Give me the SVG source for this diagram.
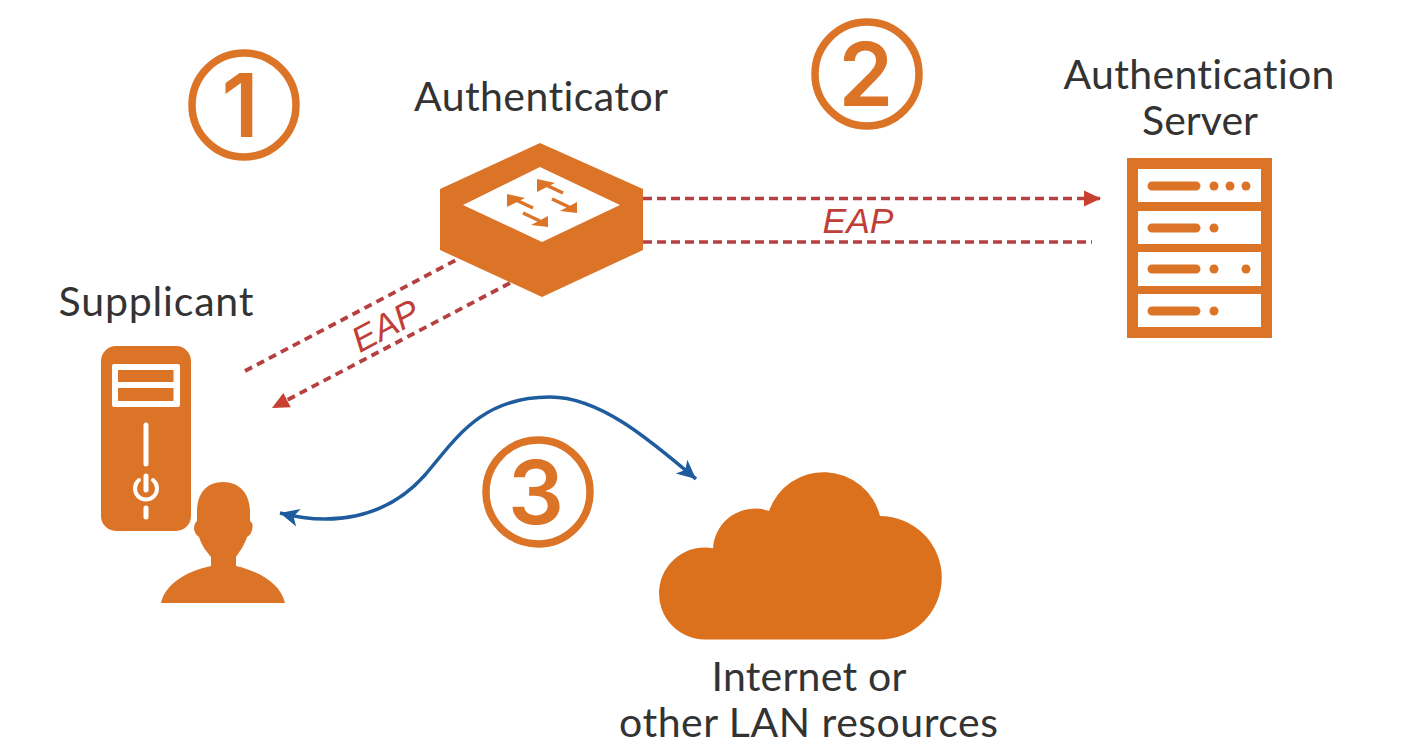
<svg xmlns="http://www.w3.org/2000/svg" width="1427" height="749" viewBox="0 0 1427 749">
<style>
.l{font-family:"Lato","Open Sans",sans-serif;font-size:41px;font-weight:400;fill:#333;text-anchor:middle;font-variant-ligatures:none}
.e{font-family:"Liberation Sans",Arial,sans-serif;font-size:35.500px;font-style:italic;fill:#bf3f38;text-anchor:middle}
.o{fill:#dc7428}
.w{fill:#fff}
.n{fill:none;stroke:#dc7428;stroke-width:7.500}
.d{font-family:"Inter","Open Sans",sans-serif;font-weight:600;font-size:88px;fill:#dc7428;text-anchor:middle}
.c{fill:none;stroke:#b5403f;stroke-width:3.500;stroke-dasharray:9 5}
.c2{fill:none;stroke:#b5403f;stroke-width:3.800;stroke-dasharray:8 5.500}
.b{fill:none;stroke:#1f5c9e;stroke-width:3.500}
.wl{fill:none;stroke:#fff;stroke-width:5;stroke-linecap:round}
.ob{fill:none;stroke:#dc7428;stroke-width:9;stroke-linecap:round}
.sl{fill:none;stroke:#dc7428;stroke-width:3.500}
</style>
<defs>
<marker id="ar" markerUnits="userSpaceOnUse" markerWidth="20" markerHeight="20" refX="18" refY="10" orient="auto"><path d="M1 2L18 10L1 18z" fill="#c8402f"/></marker>
<marker id="ab" markerUnits="userSpaceOnUse" markerWidth="22" markerHeight="22" refX="20" refY="11" orient="auto-start-reverse"><path d="M1 2L20 11L1 20L6 11z" fill="#1f5c9e"/></marker>
</defs>
<rect width="1427" height="749" fill="#fff"/>
<g id="connectors">
<path class="c" d="M643 198.500H1101" marker-end="url(#ar)"/>
<path class="c" d="M643 242H1092"/>
<path class="c2" d="M245 371L458 259"/>
<path class="c2" d="M510 283L272 408" marker-end="url(#ar)"/>
<path class="b" d="M280 513C330 526 385 520 425 475C455 440 480 397 550 397C600 397 650 440 696 479" marker-start="url(#ab)" marker-end="url(#ab)"/>
</g>
<g id="step1"><circle class="n" cx="244" cy="105" r="52"/><text class="d" x="240" y="137">1</text></g>
<g id="step2"><circle class="n" cx="867" cy="74" r="52"/><text class="d" x="866" y="106">2</text></g>
<g id="step3"><circle class="n" cx="538" cy="492" r="52"/><text class="d" x="536" y="524">3</text></g>
<g id="authenticator">
<text class="l" x="541" y="111" textLength="254">Authenticator</text>
<path class="o" d="M540 143L643 189V250L542 297L440 250V189z"/>
<path class="w" d="M540 167L620 205L542 242L463 205z"/>
<path class="o" d="M537 179L555 183L537 192zM577 213V202L560 211zM507 194L525 198L507 207zM548 227V216L531 225z"/>
<path class="sl" d="M546 185L563 193M552 199L569 207M516 200L533 208M523 213L540 221"/>
</g>
<g id="authentication-server">
<text class="l" x="1199" y="89" textLength="271">Authentication</text>
<text class="l" x="1200" y="135" textLength="116">Server</text>
<rect class="o" x="1127" y="158" width="145" height="180"/>
<rect class="w" x="1138" y="169" width="123" height="33"/>
<rect class="w" x="1138" y="211" width="123" height="33"/>
<rect class="w" x="1138" y="252" width="123" height="34"/>
<rect class="w" x="1138" y="294" width="123" height="33"/>
<path class="ob" d="M1152 186H1196M1152 228H1196M1152 269H1196M1152 311H1196"/>
<g class="o"><circle cx="1214" cy="186" r="4.500"/><circle cx="1230" cy="186" r="4.500"/><circle cx="1246" cy="186" r="4.500"/><circle cx="1214" cy="228" r="4.500"/><circle cx="1214" cy="269" r="4.500"/><circle cx="1246" cy="269" r="4.500"/><circle cx="1214" cy="311" r="4.500"/></g>
</g>
<g id="supplicant">
<text class="l" x="156" y="316" textLength="195">Supplicant</text>
<rect class="o" x="101" y="346" width="90" height="185" rx="15"/>
<rect class="w" x="112" y="364" width="68" height="43" rx="2"/>
<rect class="o" x="118" y="370" width="55.500" height="12"/>
<rect class="o" x="118" y="388" width="55.500" height="13"/>
<path class="wl" d="M146 425V464M146 476V490M146 508V517"/>
<path class="wl" style="stroke-width:4" d="M139 480A11 11 0 1 0 153 480"/>
<path class="o" d="M223 482C240 482 250 494 250 512V521C253 523 253 526 252 530C251 534 249 536 247 537C244 546 240 551 236 557V566C262 572 281 585 285 603H161C165 585 184 572 211 566V557C206 551 202 546 199 537C196 535 195 533 194 529C194 525 195 523 197 521V512C197 494 206 482 223 482z"/>
</g>
<g id="internet">
<path fill="#db701d" d="M705 639.500A46 46 0 1 1 713 548.200A42 42 0 0 1 769 511A58 58 0 0 1 880 516A61 61 0 0 1 880 639.500z"/>
<text class="l" x="809" y="691" textLength="195">Internet or</text>
<text class="l" x="808.500" y="737" textLength="379">other LAN resources</text>
</g>
<text class="e" x="858" y="233">EAP</text>
<text class="e" transform="translate(385 325) rotate(-28)" x="0" y="13">EAP</text>
</svg>
